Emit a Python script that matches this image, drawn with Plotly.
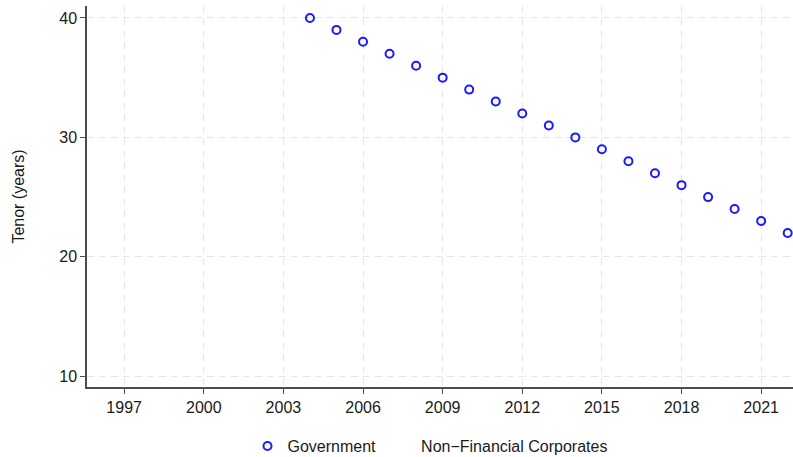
import plotly.graph_objects as go

years = list(range(2004, 2023))
government = [40, 39, 38, 37, 36, 35, 34, 33, 32, 31, 30, 29, 28, 27, 26, 25, 24, 23, 22]
nfc_years = []
nfc_values = []
x_ticks = [1997, 2000, 2003, 2006, 2009, 2012, 2015, 2018, 2021]
y_ticks = [10, 20, 30, 40]

font = "Liberation Sans, Arial, Helvetica, sans-serif"

fig = go.Figure()
fig.add_trace(go.Scatter(
    x=years, y=government, mode="markers", name="Government",
    marker=dict(symbol="circle-open", size=8, color="#1a1aff", line=dict(width=2, color="#1a1aff")),
))
fig.add_trace(go.Scatter(
    x=nfc_years if nfc_years else [None], y=nfc_values if nfc_values else [None],
    mode="markers", name="Non\u2212Financial Corporates",
    marker=dict(symbol="circle-open", size=8, color="rgba(0,0,0,0)", line=dict(width=2, color="rgba(0,0,0,0)")),
))

fig.update_layout(
    width=793, height=457,
    margin=dict(l=87, r=0, t=6, b=70, autoexpand=False),
    paper_bgcolor="white", plot_bgcolor="white",
    font=dict(family=font, size=16, color="#1a1a1a"),
    showlegend=True,
    legend=dict(orientation="h", x=0.5 - 10 / 706, xanchor="center", y=-0.155, yanchor="middle",
                font=dict(size=16), itemwidth=30, tracegroupgap=0, bgcolor="rgba(0,0,0,0)"),
    xaxis=dict(range=[1995.6, 2022.2], tickvals=x_ticks, ticktext=[str(t) for t in x_ticks],
               showline=True, linecolor="#4d4d4d", linewidth=1.5, ticks="outside", ticklen=5,
               tickcolor="#4d4d4d", showgrid=True, gridcolor="#e6e6e6", griddash="7px,5px",
               zeroline=False, tickfont=dict(size=16)),
    yaxis=dict(range=[9.1, 41.0], tickvals=y_ticks,
               title=dict(text="Tenor (years)", font=dict(size=16), standoff=31),
               showline=True, linecolor="#4d4d4d", linewidth=1.5, ticks="outside", ticklen=5,
               tickcolor="#4d4d4d", showgrid=True, gridcolor="#e6e6e6", griddash="7px,5px",
               zeroline=False, tickfont=dict(size=16)),
)

fig.write_html("out.html")
